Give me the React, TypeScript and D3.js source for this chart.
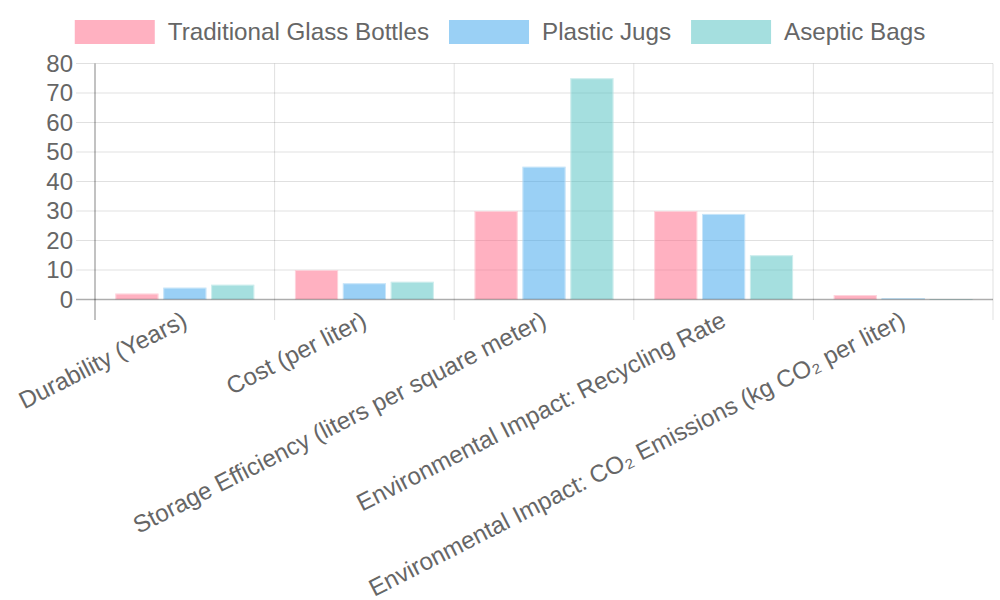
import React, { useMemo } from "react";
import * as d3 from "d3";

const categories = [
  "Durability (Years)",
  "Cost (per liter)",
  "Storage Efficiency (liters per square meter)",
  "Environmental Impact: Recycling Rate",
  "Environmental Impact: CO₂ Emissions (kg CO₂ per liter)",
];
const seriesNames = ["Traditional Glass Bottles", "Plastic Jugs", "Aseptic Bags"];
const glassValues = [2, 10, 30, 30, 1.5];
const plasticValues = [4, 5.5, 45, 29, 0.5];
const asepticValues = [5, 6, 75, 15, 0.15];
const yTicks = [0, 10, 20, 30, 40, 50, 60, 70, 80];

const fills = ["rgba(255,99,132,0.5)", "rgba(54,162,235,0.5)", "rgba(75,192,192,0.5)"];
const strokes = ["rgba(255,255,255,0.45)", "rgba(255,255,255,0.45)", "rgba(255,255,255,0.45)"];

const FONT = "'Liberation Sans', Arial, Helvetica, sans-serif";
const TEXT = "#666";

export default function App() {
  const W = 1000;
  const H = 600;
  const left = 95;
  const right = 993;
  const top = 63.5;
  const bottom = 299.5;

  const series = [glassValues, plasticValues, asepticValues];

  const x = d3.scaleBand<string>().domain(categories).range([left, right]).padding(0);
  const bw = x.bandwidth();
  const inner = d3
    .scaleBand<number>()
    .domain([0, 1, 2])
    .range([bw * 0.1, bw * 0.9])
    .paddingInner(0.1)
    .paddingOuter(0.05);
  const y = d3.scaleLinear().domain([0, 80]).range([bottom, top]);

  const legend = useMemo(() => {
    const canvas = document.createElement("canvas");
    const ctx = canvas.getContext("2d")!;
    ctx.font = `24.2px ${FONT}`;
    const widths = seriesNames.map((s) => ctx.measureText(s).width);
    const itemW = widths.map((w) => 80 + 13 + w);
    const total = d3.sum(itemW) + 20 * (seriesNames.length - 1);
    let cx = W / 2 - total / 2;
    return seriesNames.map((s, i) => {
      const pos = cx;
      cx += itemW[i] + 20;
      return { name: s, x: pos };
    });
  }, []);

  const angle = -27;
  const gridColor = "rgba(0,0,0,0.12)";
  const axisColor = "rgba(0,0,0,0.32)";

  return (
    <svg
      width={W}
      height={H}
      style={{ position: "fixed", left: 0, top: 0, background: "#fff" }}
      fontFamily={FONT}
    >
      {/* legend */}
      {legend.map((l, i) => (
        <g key={l.name}>
          <rect x={l.x} y={20} width={80} height={24} fill={fills[i]} />
          <text x={l.x + 93} y={40} fontSize={24.2} fill={TEXT}>
            {l.name}
          </text>
        </g>
      ))}

      {/* horizontal grid */}
      {yTicks.map((t) => (
        <g key={t}>
          {t !== 0 && (
            <line x1={76} x2={right} y1={y(t)} y2={y(t)} stroke={gridColor} strokeWidth={1} />
          )}
          <text
            x={73}
            y={y(t)}
            dy="0.35em"
            textAnchor="end"
            fontSize={24}
            fill={TEXT}
          >
            {t}
          </text>
        </g>
      ))}

      {/* vertical grid */}
      {categories.map((c, i) =>
        i === 0 ? null : (
          <line
            key={c}
            x1={x(c)!}
            x2={x(c)!}
            y1={top}
            y2={320}
            stroke={gridColor}
            strokeWidth={1}
          />
        )
      )}
      <line x1={right} x2={right} y1={top} y2={320} stroke={gridColor} strokeWidth={1} />

      {/* bars */}
      {categories.map((c, ci) =>
        series.map((vals, si) => {
          const bx = x(c)! + inner(si)!;
          const by = y(vals[ci]);
          const h = y(0) - by;
          return (
            <g key={c + si}>
              <rect x={bx} y={by} width={inner.bandwidth()} height={h} fill={fills[si]} />
              {h > 1 && (
                <rect
                  x={bx + 0.5}
                  y={by + 0.5}
                  width={inner.bandwidth() - 1}
                  height={h - 0.5}
                  fill="none"
                  stroke={strokes[si]}
                  strokeWidth={1}
                />
              )}
            </g>
          );
        })
      )}

      {/* axes */}
      <line x1={76} x2={right} y1={y(0)} y2={y(0)} stroke={axisColor} strokeWidth={1.5} />
      <line x1={left} x2={left} y1={top} y2={320} stroke={axisColor} strokeWidth={1.5} />

      {/* x labels */}
      {categories.map((c) => {
        const cx = x(c)! + bw / 2;
        return (
          <text
            key={c}
            transform={`translate(${cx},318) rotate(${angle})`}
            textAnchor="end"
            dominantBaseline="central"
            fontSize={24.2}
            fill={TEXT}
          >
            {c}
          </text>
        );
      })}
    </svg>
  );
}
